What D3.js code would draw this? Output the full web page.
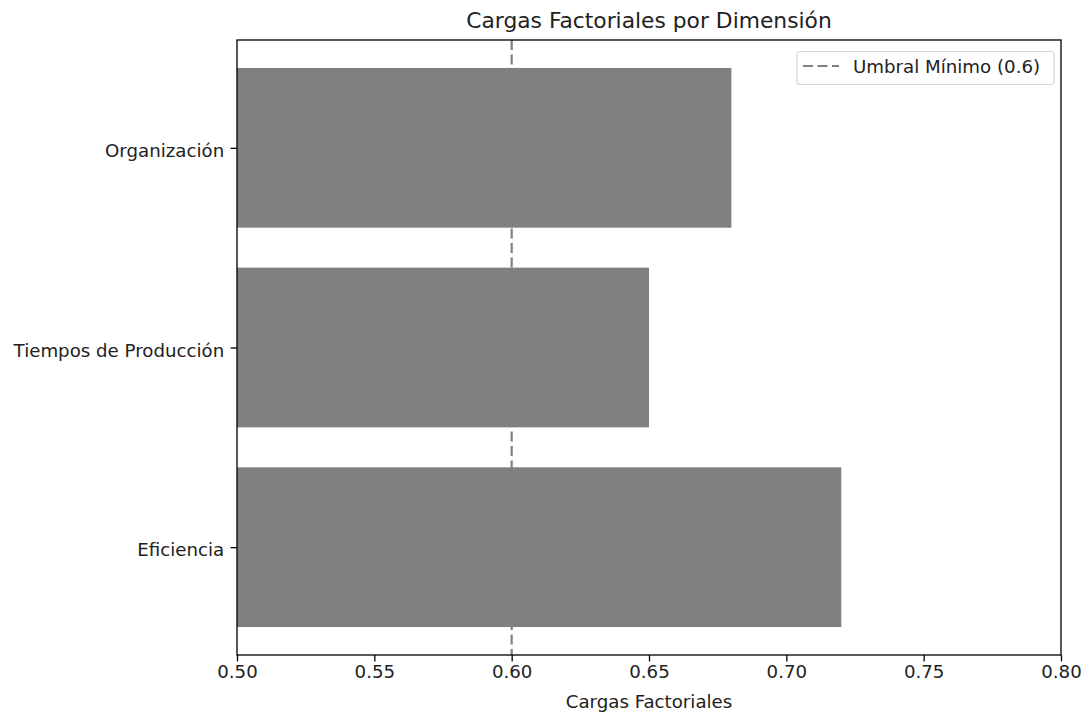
<!DOCTYPE html>
<html><head><meta charset="utf-8">
<script src="https://cdn.jsdelivr.net/npm/d3@7"></script>
<style>body{margin:0;background:#fff}svg{display:block}text{font-family:"DejaVu Sans",sans-serif;fill:#222}</style>
</head><body><svg id="c" width="1089" height="712"></svg>
<script>
const categories = ["Eficiencia", "Tiempos de Producción", "Organización"];
const loadings = [0.72, 0.65, 0.68];
const xTicks = [0.50, 0.55, 0.60, 0.65, 0.70, 0.75, 0.80];
const threshold = 0.6;
const titleText = "Cargas Factoriales por Dimensión";
const xLabel = "Cargas Factoriales";
const legendLabel = "Umbral Mínimo (0.6)";

const svg = d3.select("#c");
const L = 237, R = 1061, T = 40, B = 655;
const FS = 18.2;
const x = d3.scaleLinear().domain([0.5, 0.8]).range([L, R]);
const y = d3.scaleLinear().domain([-0.54, 2.54]).range([B, T]);
const barH = 0.8;

svg.append("g").selectAll("rect").data(categories).join("rect")
  .attr("x", x(0.5))
  .attr("y", (d, i) => y(i + barH / 2))
  .attr("width", (d, i) => x(loadings[i]) - x(0.5))
  .attr("height", (d, i) => y(i - barH / 2) - y(i + barH / 2))
  .attr("fill", "#808080");

svg.append("line").attr("x1", x(threshold)).attr("x2", x(threshold))
  .attr("y1", T).attr("y2", B)
  .attr("stroke", "#808080").attr("stroke-width", 2.2).attr("stroke-dasharray", "10,4.5");

svg.append("rect").attr("x", L).attr("y", T).attr("width", R - L).attr("height", B - T)
  .attr("fill", "none").attr("stroke", "#000").attr("stroke-width", 1.3);

const xa = svg.append("g").attr("transform", `translate(0,${B})`)
  .call(d3.axisBottom(x).tickValues(xTicks).tickFormat(d3.format(".2f")).tickSize(6.4).tickPadding(4));
xa.select(".domain").remove();
xa.selectAll("text").attr("font-size", FS).attr("fill", "#222").style("font-family", "DejaVu Sans");
xa.selectAll("line").attr("stroke", "#000").attr("stroke-width", 1.3);

const ya = svg.append("g").attr("transform", `translate(${L},0)`)
  .call(d3.axisLeft(y).tickValues([0, 1, 2]).tickFormat(i => categories[i]).tickSize(6.4).tickPadding(6.4));
ya.select(".domain").remove();
ya.selectAll("text").attr("font-size", FS).attr("dy", "0.48em").attr("fill", "#222").style("font-family", "DejaVu Sans");
ya.selectAll("line").attr("stroke", "#000").attr("stroke-width", 1.3);

svg.append("text").attr("x", (L + R) / 2).attr("y", 28).attr("text-anchor", "middle")
  .attr("font-size", 21.8).text(titleText);
svg.append("text").attr("x", (L + R) / 2).attr("y", 708).attr("text-anchor", "middle")
  .attr("font-size", FS).text(xLabel);

const lg = svg.append("g");
lg.append("rect").attr("x", 797).attr("y", 51.5).attr("width", 257).attr("height", 33).attr("rx", 3)
  .attr("fill", "#fff").attr("fill-opacity", 0.8).attr("stroke", "#d5d5d5").attr("stroke-width", 1.2);
lg.append("line").attr("x1", 803).attr("x2", 839).attr("y1", 66).attr("y2", 66)
  .attr("stroke", "#808080").attr("stroke-width", 2.2).attr("stroke-dasharray", "10,4.5");
lg.append("text").attr("x", 853).attr("y", 72.5).attr("font-size", FS).text(legendLabel);
</script></body></html>
